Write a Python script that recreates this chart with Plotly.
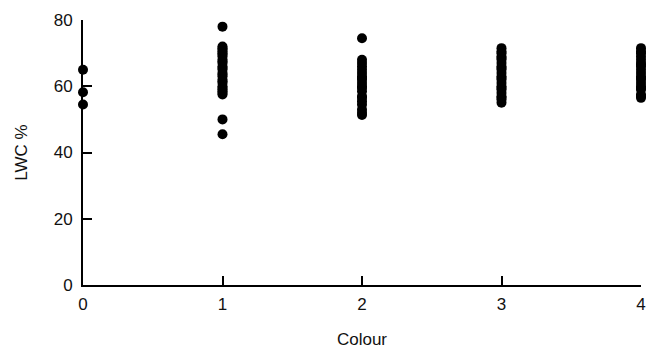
import plotly.graph_objects as go

# LWC % measured at each colour score
colour_0 = [65.0, 58.2, 54.5]
colour_1 = [78.0, 72.0, 71.5, 71.0, 70.5, 70.0, 69.5, 69.0, 68.0, 67.5, 67.0, 66.0,
            65.5, 65.0, 64.0, 63.5, 63.0, 62.0, 61.5, 61.0, 60.0, 59.5, 59.0, 58.5,
            58.0, 57.5, 50.0, 45.5]
colour_2 = [74.5, 68.0, 67.0, 66.0, 65.0, 64.0, 63.0, 62.5, 62.0, 61.0, 60.0, 59.5,
            58.5, 57.0, 56.5, 55.5, 54.5, 53.0, 52.0, 51.3]
colour_3 = [71.5, 70.5, 70.0, 69.0, 68.5, 68.0, 67.0, 66.0, 65.5, 65.0, 64.0, 63.0,
            62.5, 62.0, 61.0, 60.0, 59.5, 59.0, 58.0, 57.0, 56.5, 56.0, 55.0]
colour_4 = [71.5, 70.5, 70.0, 69.0, 68.0, 67.0, 66.5, 66.0, 65.0, 64.0, 63.0, 62.5,
            62.0, 61.0, 60.0, 59.5, 59.0, 57.5, 57.0, 56.5]

groups = [(0, colour_0), (1, colour_1), (2, colour_2), (3, colour_3), (4, colour_4)]

xs, ys = [], []
for score, vals in groups:
    xs += [score] * len(vals)
    ys += vals

x_ticks = [0, 1, 2, 3, 4]
y_ticks = [0, 20, 40, 60, 80]

font = "Liberation Sans, Arial, sans-serif"

fig = go.Figure(go.Scatter(
    x=xs, y=ys, mode="markers",
    marker=dict(color="black", size=10, line=dict(width=0)),
    cliponaxis=False,
))

fig.update_layout(
    width=659, height=353,
    margin=dict(l=83, r=18, t=20, b=68),
    paper_bgcolor="white", plot_bgcolor="white",
    showlegend=False,
    font=dict(family=font, size=17, color="#111"),
)
fig.update_xaxes(
    range=[0, 4], tickvals=x_ticks, ticktext=[str(v) for v in x_ticks],
    showgrid=False, zeroline=False, automargin=False,
    showline=True, linecolor="black", linewidth=2,
    ticks="inside", ticklen=9, tickwidth=2, tickcolor="black",
    ticklabelstandoff=3,
    title=dict(text="Colour", standoff=20, font=dict(size=17)),
)
fig.update_yaxes(
    range=[0, 80], tickvals=y_ticks, ticktext=[str(v) for v in y_ticks],
    showgrid=False, zeroline=False, automargin=False,
    showline=True, linecolor="black", linewidth=2,
    ticks="inside", ticklen=9, tickwidth=2, tickcolor="black",
    ticklabelstandoff=5,
    title=dict(text="LWC %", standoff=22, font=dict(size=17)),
)

fig.write_html("out.html")
